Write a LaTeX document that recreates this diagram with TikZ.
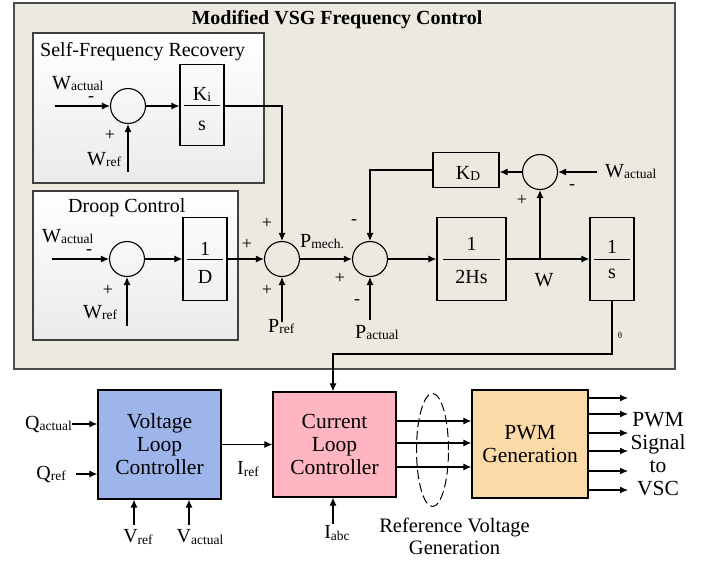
\documentclass[tikz,border=0pt]{standalone}
\usepackage{fontspec}
\setmainfont{Liberation Serif}
\usetikzlibrary{arrows.meta, positioning, shapes.geometric, calc}

\definecolor{framebg}{RGB}{236,233,224}
\definecolor{vlcblue}{RGB}{157,181,234}
\definecolor{clcpink}{RGB}{255,182,193}
\definecolor{pwmpeach}{RGB}{252,218,168}

% low subscript, as in the source figure
\newcommand{\sbs}[1]{\raisebox{-1.5pt}{\fontsize{13.5}{13.5}\selectfont #1}}

\tikzset{
  sig/.style={-{Latex[length=8pt,width=7pt]}, line width=1.1pt},
  wire/.style={line width=1.1pt},
  frac/.style={line width=1pt},
  blk/.style={draw, line width=1.3pt, inner sep=0pt},
  sumj/.style={draw, circle, line width=1.1pt, minimum size=35pt, inner sep=0pt},
  lbl/.style={font=\fontsize{20}{22}\selectfont, inner sep=0pt},
  sgn/.style={font=\fontsize{18}{18}\selectfont, inner sep=0pt},
  bigtxt/.style={font=\fontsize{21.5}{23}\selectfont, align=center},
  panel/.style={draw=black!75, line width=1.3pt, top color=white, bottom color=gray!16},
}

\begin{document}
\begin{tikzpicture}[x=1pt, y=-1pt]
    \useasboundingbox (0,0) rectangle (709,560);

    % Frame
    \node[draw=black!70, line width=1.5pt, fill=framebg, minimum width=661pt, minimum height=366pt, inner sep=0pt] (frame) at (344.5,186) {};
    \node[font=\fontsize{20}{22}\selectfont\bfseries, inner sep=0pt] (ttl) at (337,20) {Modified VSG Frequency Control};

    % Self-frequency recovery
    \node[panel, minimum width=231pt, minimum height=150pt] (sfr) at (148.5,108) {};
    \node[lbl, anchor=base west] (sfrttl) at (40,56) {Self-Frequency Recovery};
    \node[sumj] (s1) at (128,106) {};
    \node[blk, minimum width=44pt, minimum height=81pt] (ki) at (202,105) {};
    \draw[frac] ([xshift=5pt]ki.west) -- ([xshift=-5pt]ki.east);
    \node[lbl, anchor=base] (kinum) at (202,100) {K\sbs{i}};
    \node[lbl, anchor=base] (kiden) at (202,130) {s};
    \node[lbl, anchor=base west] (w1act) at (52,89) {W\sbs{actual}};
    \node[sgn] (m1) at (91,99) {-};
    \node[sgn] (p1) at (110,135) {+};
    \node[lbl, anchor=base west] (w1rf) at (87,165) {W\sbs{ref}};
    \coordinate (w1in) at (55,106);
    \coordinate (w1up) at (128,172);
    \draw[sig] (w1in) -- (s1.west);
    \draw[sig] (w1up) -- (s1.south);
    \draw[sig] (s1.east) -- (s1.east -| ki.west);

    % Droop control
    \node[panel, minimum width=205pt, minimum height=149pt] (drp) at (135.5,265.5) {};
    \node[lbl, anchor=base west] (drpttl) at (68,212) {Droop Control};
    \node[sumj] (s2) at (127,259) {};
    \node[blk, minimum width=44pt, minimum height=83pt] (dinv) at (205,259) {};
    \draw[frac] ([xshift=5pt]dinv.west) -- ([xshift=-5pt]dinv.east);
    \node[lbl, anchor=base] (dnum) at (205,255) {1};
    \node[lbl, anchor=base] (dden) at (205,283) {D};
    \node[lbl, anchor=base west] (w2act) at (42,242) {W\sbs{actual}};
    \node[sgn] (m2) at (89,252) {-};
    \node[sgn] (p2) at (108,290) {+};
    \node[lbl, anchor=base west] (w2rf) at (83,318) {W\sbs{ref}};
    \coordinate (w2in) at (52,259);
    \coordinate (w2up) at (127,326);
    \draw[sig] (w2in) -- (s2.west);
    \draw[sig] (w2up) -- (s2.south);
    \draw[sig] (s2.east) -- (dinv.west);

    % Power summation
    \node[sumj] (s3) at (282,259) {};
    \node[sgn] (p3a) at (247,244) {+};
    \node[sgn] (p3b) at (267,223) {+};
    \node[sgn] (p3c) at (267,290) {+};
    \node[lbl, anchor=base west] (pref) at (268,332) {P\sbs{ref}};
    \node[lbl, anchor=base west] (pmech) at (300,247) {P\sbs{mech.}};
    \coordinate (prefup) at (282,322);
    \draw[sig] (dinv.east) -- (s3.west);
    \draw[sig] (prefup) -- (s3.south);
    \draw[sig] (ki.east |- s1) -| (s3.north);

    \node[sumj] (s4) at (370,259) {};
    \node[sgn] (m4a) at (354,222) {-};
    \node[sgn] (p4) at (340,278) {+};
    \node[sgn] (m4b) at (357,302) {-};
    \node[lbl, anchor=base west] (pact) at (355,338) {P\sbs{actual}};
    \coordinate (pactup) at (370,320);
    \draw[sig] (s3.east) -- (s4.west);
    \draw[sig] (pactup) -- (s4.south);

    % Swing equation
    \node[blk, minimum width=69pt, minimum height=83pt] (hs) at (471.5,259) {};
    \draw[frac] ([xshift=7pt]hs.west) -- ([xshift=-7pt]hs.east);
    \node[lbl, anchor=base] (hsnum) at (471.5,250) {1};
    \node[lbl, anchor=base] (hsden) at (471.5,283) {2Hs};
    \node[blk, minimum width=44pt, minimum height=83pt] (integ) at (612,259) {};
    \draw[frac] ([xshift=5pt]integ.west) -- ([xshift=-5pt]integ.east);
    \node[lbl, anchor=base] (inum) at (612,253) {1};
    \node[lbl, anchor=base] (iden) at (612,278) {s};
    \draw[sig] (s4.east) -- (hs.west);
    \coordinate (wjn) at (540,259);
    \node[lbl] (wlbl) at (544,280) {W};
    \draw[wire] (hs.east) -- (wjn);
    \draw[sig] (wjn) -- (integ.west);

    % Damping
    \node[sumj] (s5) at (540,172) {};
    \node[blk, minimum width=66pt, minimum height=35pt] (kd) at (466,170) {};
    \node[lbl, anchor=base] (kdtxt) at (468,179) {K\sbs{D}};
    \node[sgn] (p5) at (522,200) {+};
    \node[sgn] (m5) at (572,187) {-};
    \node[lbl, anchor=base west] (w5act) at (605,177) {W\sbs{actual}};
    \coordinate (w5in) at (597,172);
    \draw[sig] (wjn) -- (s5.south);
    \draw[sig] (w5in) -- (s5.east);
    \draw[sig] (s5.west) -- (s5.west -| kd.east);
    \draw[sig] (kd.west) -| (s4.north);

    % Theta to current loop
    \node[font=\fontsize{9}{9}\selectfont, inner sep=0pt] (thlbl) at (620,335) {θ};
    \coordinate (thbend) at (333,354);

    % Voltage loop
    \node[blk, fill=vlcblue, minimum width=123pt, minimum height=109pt, bigtxt] (vlc) at (159.5,444.5) {Voltage\\Loop\\Controller};
    \node[lbl, anchor=east] (qact) at (72,424) {Q\sbs{actual}};
    \node[lbl, anchor=east] (qref) at (66,474) {Q\sbs{ref}};
    \node[lbl] (vref) at (138,537) {V\sbs{ref}};
    \node[lbl] (vact) at (200,537) {V\sbs{actual}};
    \coordinate (vrefup) at (134,525);
    \coordinate (vactup) at (189,525);
    \draw[sig] (qact.east) -- (qact.east -| vlc.west);
    \draw[sig] ([xshift=10pt]qref.east) -- (qref.east -| vlc.west);
    \draw[sig] (vrefup) -- (vrefup |- vlc.south);
    \draw[sig] (vactup) -- (vactup |- vlc.south);

    % Current loop
    \node[blk, fill=clcpink, minimum width=123pt, minimum height=105pt, bigtxt] (clc) at (334.5,444.5) {Current\\Loop\\Controller};
    \node[lbl] (iref) at (248,469) {I\sbs{ref}};
    \node[lbl] (iabc) at (337,533) {I\sbs{abc}};
    \coordinate (iabcup) at (333,524);
    \draw[sig] (vlc.east) -- (clc.west);
    \draw[sig] (iabcup) -- (iabcup |- clc.south);
    \draw[sig] (integ.south) |- (thbend) -- (thbend |- clc.north);

    % PWM
    \node[blk, fill=pwmpeach, minimum width=116pt, minimum height=108pt, bigtxt] (pwm) at (530,444) {PWM\\Generation};
    \node[draw, ellipse, dash pattern=on 9pt off 4pt, line width=1pt, minimum width=32pt, minimum height=113pt, inner sep=0pt] (refell) at (432.5,450) {};
    \node[bigtxt, font=\fontsize{20.5}{22}\selectfont, inner sep=0pt] (reftxt) at (454.5,536) {Reference Voltage\\Generation};
    \foreach \yy in {421,443,467}
      \draw[sig] (clc.east |- 0,\yy) -- (pwm.west |- 0,\yy);
    \foreach \yy [count=\k] in {398,414,433,451,471,490} {
      \coordinate (po\k) at (628,\yy);
      \draw[sig] (po\k -| pwm.east) -- (po\k);
    }
    \node[bigtxt, inner sep=0pt] (pwmout) at (658,454) {PWM\\Signal\\to\\VSC};
\end{tikzpicture}
\end{document}
